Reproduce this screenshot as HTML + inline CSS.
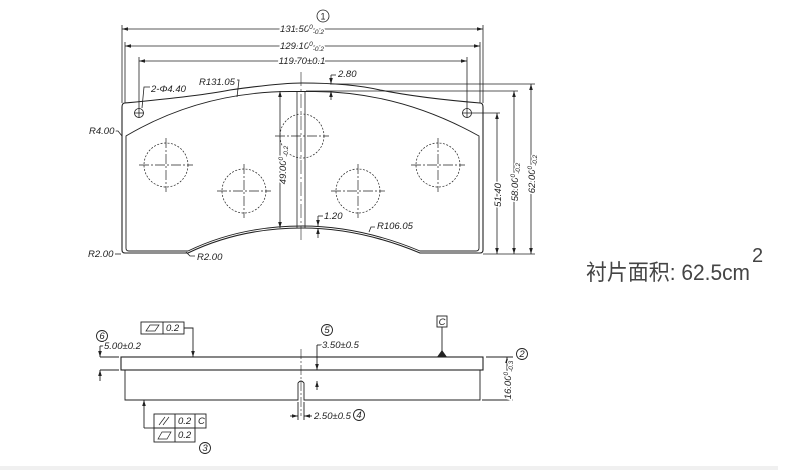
<!DOCTYPE html>
<html><head><meta charset="utf-8"><style>
html,body{margin:0;padding:0;background:#fff;width:800px;height:470px;overflow:hidden}
svg{display:block}
text{font-family:"Liberation Sans","Noto Sans CJK SC",sans-serif;font-style:italic;font-size:9.5px;fill:#222;paint-order:stroke;stroke:#fff;stroke-width:3px}
</style></head><body>
<svg width="800" height="470" viewBox="0 0 800 470" xmlns="http://www.w3.org/2000/svg">
<defs>
<marker id="a" markerWidth="6" markerHeight="6" refX="6" refY="3" orient="auto-start-reverse" markerUnits="userSpaceOnUse"><path d="M0,1.2 L6,3 L0,4.8z" fill="#222"/></marker>
</defs>
<rect x="0" y="466" width="778" height="4" fill="#f0f0f0"/>
<g stroke="#222" fill="none" stroke-width="0.8">
<line x1="122" y1="25" x2="122" y2="103"/><line x1="483" y1="25" x2="483" y2="103"/>
<line x1="125" y1="42" x2="125" y2="103"/><line x1="480" y1="42" x2="480" y2="103"/>
<line x1="139" y1="57" x2="139" y2="109"/><line x1="467" y1="57" x2="467" y2="109"/>
<line x1="122" y1="29" x2="483" y2="29" marker-start="url(#a)" marker-end="url(#a)"/>
<line x1="125" y1="46" x2="480" y2="46" marker-start="url(#a)" marker-end="url(#a)"/>
<line x1="139" y1="61" x2="467" y2="61" marker-start="url(#a)" marker-end="url(#a)"/>
<path d="M125,103 Q200,96 230,90 Q280,83 302,83 Q350,83 380,90 Q420,98 480,103 Q483,103 483,107 L483,250 Q483,253 480,253 L420,253 Q360,228 302,228 Q240,228 188,253 L125,253 Q122,253 122,250 L122,107 Q122,103 125,103Z" stroke-width="1.1"/>
<path d="M126,136 Q200,92 290,91.5 L315,91.5 Q400,92 479,136 L479,248 Q479,251 476,251 L420,251 Q360,226 302,226 Q240,226 188,251 L129,251 Q126,251 126,248Z" stroke-width="0.9"/>
<line x1="297" y1="91" x2="297" y2="228"/><line x1="305" y1="91" x2="305" y2="228"/>
<line x1="301" y1="72" x2="301" y2="240" stroke-dasharray="14,3,2,3" stroke-width="0.6"/>
<circle cx="139" cy="113" r="4.5"/><line x1="134" y1="113" x2="144" y2="113"/><line x1="139" y1="108" x2="139" y2="118"/>
<circle cx="467" cy="113" r="4.5"/><line x1="462" y1="113" x2="472" y2="113"/><line x1="467" y1="108" x2="467" y2="118"/>
<g stroke-dasharray="2,1.5" stroke-width="0.7">
<circle cx="166" cy="165" r="22"/><circle cx="244" cy="191" r="22"/><circle cx="302" cy="136" r="22"/><circle cx="358" cy="191" r="22"/><circle cx="438" cy="165" r="22"/>
</g>
<g stroke-dasharray="10,2,2,2" stroke-width="0.7">
<line x1="139" y1="165" x2="193" y2="165"/><line x1="166" y1="138" x2="166" y2="192"/>
<line x1="217" y1="191" x2="271" y2="191"/><line x1="244" y1="164" x2="244" y2="218"/>
<line x1="275" y1="136" x2="329" y2="136"/>
<line x1="331" y1="191" x2="385" y2="191"/><line x1="358" y1="164" x2="358" y2="218"/>
<line x1="411" y1="165" x2="465" y2="165"/><line x1="438" y1="138" x2="438" y2="192"/>
</g>
<line x1="330" y1="84" x2="535" y2="84"/><line x1="306" y1="91" x2="518" y2="91"/><line x1="472" y1="113" x2="500" y2="113"/>
<line x1="483" y1="254" x2="535" y2="254"/>
<line x1="497" y1="113" x2="497" y2="254" marker-start="url(#a)" marker-end="url(#a)"/>
<line x1="514" y1="91" x2="514" y2="254" marker-start="url(#a)" marker-end="url(#a)"/>
<line x1="531" y1="84" x2="531" y2="254" marker-start="url(#a)" marker-end="url(#a)"/>
<line x1="280" y1="91" x2="280" y2="228" marker-start="url(#a)" marker-end="url(#a)"/>
<line x1="331" y1="75" x2="331" y2="84" marker-end="url(#a)"/><line x1="331" y1="100" x2="331" y2="91" marker-end="url(#a)"/><line x1="331" y1="75" x2="336" y2="75"/>
<line x1="318" y1="216" x2="318" y2="226" marker-end="url(#a)"/><line x1="318" y1="238" x2="318" y2="228" marker-end="url(#a)"/><line x1="318" y1="216" x2="323" y2="216"/>
<path d="M150,87 L144,87 L142,108"/><path d="M237,80 L239,80 L237,97"/>
<path d="M105,131 L118,131 L122,136"/><path d="M375,227 L371,227 L369,232"/>
<path d="M115,254 L121,254"/><path d="M195,256 L190,256 L186,252"/>
</g>
<circle cx="323" cy="16" r="6" fill="none" stroke="#222" stroke-width="0.8"/>
<text x="323" y="19.5" text-anchor="middle" style="font-style:normal;font-size:9px;stroke:none">1</text>
<text x="302" y="32" text-anchor="middle">131.50<tspan font-size="6.5" dy="-3">0</tspan><tspan font-size="6.5" dy="5">-0.2</tspan></text>
<text x="302" y="49" text-anchor="middle">129.10<tspan font-size="6.5" dy="-3">0</tspan><tspan font-size="6.5" dy="5">-0.2</tspan></text>
<text x="302" y="64" text-anchor="middle">119.70±0.1</text>
<text x="338" y="77">2.80</text>
<text x="151" y="92">2-Φ4.40</text>
<text x="199" y="85">R131.05</text>
<text x="89" y="134">R4.00</text>
<text x="88" y="257">R2.00</text>
<text x="197" y="260">R2.00</text>
<text x="324" y="219">1.20</text>
<text x="377" y="229">R106.05</text>
<text transform="translate(286,165) rotate(-90)" text-anchor="middle">49.00<tspan font-size="6.5" dy="-3">0</tspan><tspan font-size="6.5" dy="5">-0.2</tspan></text>
<text transform="translate(501,195) rotate(-90)" text-anchor="middle">51.40</text>
<text transform="translate(518,182) rotate(-90)" text-anchor="middle">58.00<tspan font-size="6.5" dy="-3">0</tspan><tspan font-size="6.5" dy="5">-0.2</tspan></text>
<text transform="translate(535,174) rotate(-90)" text-anchor="middle">62.00<tspan font-size="6.5" dy="-3">0</tspan><tspan font-size="6.5" dy="5">-0.2</tspan></text>
<text x="586" y="280" style="font-style:normal;font-size:22px;fill:#444;stroke:none" textLength="164" lengthAdjust="spacingAndGlyphs">衬片面积: 62.5cm</text>
<text x="752" y="262" style="font-style:normal;font-size:20px;fill:#444;stroke:none">2</text>
<g stroke="#222" fill="none" stroke-width="0.9">
<rect x="121" y="357" width="362" height="13" stroke-width="1.1"/>
<path d="M125,370 L125,400 L298,400 L298,383 Q301,379 304,383 L304,400 L480,400 L480,370"/>
<line x1="301" y1="349" x2="301" y2="416" stroke-dasharray="10,2,2,2" stroke-width="0.6"/>
<line x1="486" y1="357" x2="513" y2="357"/><line x1="482" y1="400" x2="513" y2="400"/>
<line x1="507" y1="357" x2="507" y2="400" marker-start="url(#a)" marker-end="url(#a)"/>
<line x1="100" y1="357" x2="119" y2="357"/><line x1="100" y1="370" x2="119" y2="370"/>
<line x1="100" y1="346" x2="100" y2="357" marker-end="url(#a)"/><line x1="100" y1="381" x2="100" y2="370" marker-end="url(#a)"/><line x1="100" y1="346" x2="104" y2="346"/>
<line x1="317" y1="345" x2="317" y2="370" marker-end="url(#a)"/><line x1="317" y1="390" x2="317" y2="381" marker-end="url(#a)"/><line x1="317" y1="345" x2="322" y2="345"/>
<line x1="298" y1="402" x2="298" y2="420"/><line x1="304" y1="402" x2="304" y2="420"/>
<line x1="290" y1="416" x2="298" y2="416" marker-end="url(#a)"/><line x1="312" y1="416" x2="304" y2="416" marker-end="url(#a)"/>
<rect x="141" y="322" width="43" height="12"/><line x1="163" y1="322" x2="163" y2="334"/>
<path d="M146,331 L150,325 L159,325 L155,331Z" stroke-width="0.7"/>
<path d="M184,328 L193,328 L193,357" marker-end="url(#a)"/>
<rect x="437" y="316" width="10" height="11"/><line x1="442" y1="327" x2="442" y2="351"/>
<path d="M144,428 L144,400" marker-end="url(#a)"/><line x1="144" y1="428" x2="154" y2="428"/>
<rect x="154" y="414" width="52" height="14"/><line x1="175" y1="414" x2="175" y2="428"/><line x1="195" y1="414" x2="195" y2="428"/>
<rect x="154" y="428" width="41" height="14"/><line x1="175" y1="428" x2="175" y2="442"/>
<path d="M159,425 L165,417 M163,425 L169,417" stroke-width="0.7"/>
<path d="M158,439 L162,432 L171,432 L167,439Z" stroke-width="0.7"/>
<circle cx="102" cy="336" r="5.5"/><circle cx="327" cy="330" r="5.5"/><circle cx="522" cy="354" r="5.5"/>
<circle cx="359" cy="415" r="5.5"/><circle cx="205" cy="448" r="5.5"/>
</g>
<path d="M437,357 L442,350 L447,357Z" fill="#222"/>
<g style="font-style:normal;font-size:8px" text-anchor="middle">
<text x="102" y="339" style="stroke:none">6</text><text x="327" y="333" style="stroke:none">5</text><text x="522" y="357" style="stroke:none">2</text><text x="359" y="418" style="stroke:none">4</text><text x="205" y="451" style="stroke:none">3</text>
<text x="442" y="325" style="stroke:none">C</text>
</g>
<text x="166" y="331" style="stroke:none">0.2</text>
<text x="178" y="424" style="stroke:none">0.2</text><text x="198" y="424" style="stroke:none">C</text>
<text x="178" y="438" style="stroke:none">0.2</text>
<text x="104" y="349">5.00±0.2</text>
<text x="322" y="348">3.50±0.5</text>
<text x="314" y="419">2.50±0.5</text>
<text transform="translate(511,380) rotate(-90)" text-anchor="middle">16.00<tspan font-size="6.5" dy="-3">0</tspan><tspan font-size="6.5" dy="5">-0.3</tspan></text>
</svg>
</body></html>
